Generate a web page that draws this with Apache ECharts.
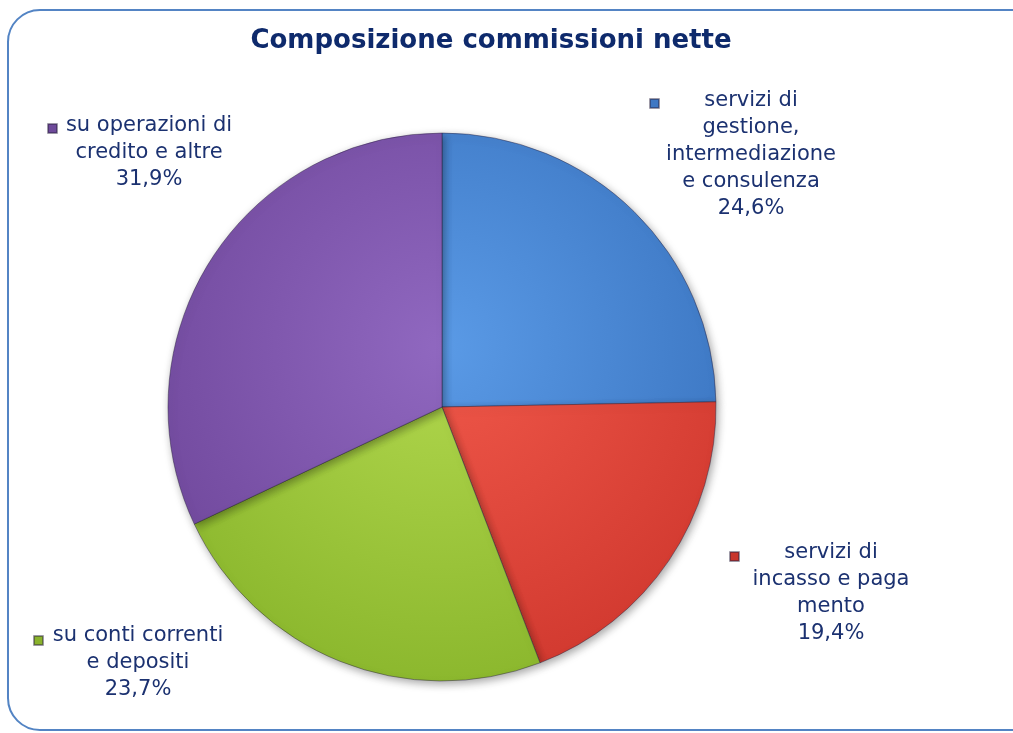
<!DOCTYPE html>
<html>
<head>
<meta charset="utf-8">
<script src="https://cdn.jsdelivr.net/npm/echarts@6/dist/echarts.min.js"></script>
<style>
  html, body { margin: 0; padding: 0; background: #fff; }
  #chart { width: 1013px; height: 733px; }
</style>
</head>
<body>
<div id="chart"></div>
<script>
const categories = [
  'servizi di\ngestione,\nintermediazione\ne consulenza',
  'servizi di\nincasso e paga\nmento',
  'su conti correnti\ne depositi',
  'su operazioni di\ncredito e altre'
]
const values = [24.6, 19.4, 23.7, 31.9]
const percentLabels = ['24,6%', '19,4%', '23,7%', '31,9%']

// colori: chiaro al centro, scuro al bordo
const sliceColors = [
  ['#5a9ae6', '#3a74c0'],
  ['#f0584a', '#d23a30'],
  ['#b2d84e', '#8cb82e'],
  ['#9068c0', '#70489c']
]
const markerColors = ['#3f78c4', '#c8352c', '#8ab32c', '#6e4a9a']

// posizione delle etichette (centro del blocco di testo, in alto)
const labelPos = [
  { x: 751, y: 87 },
  { x: 831, y: 539 },
  { x: 138, y: 622 },
  { x: 149, y: 112 }
]
const markerPos = [
  { left: 644, top: 93 },
  { left: 724, top: 546 },
  { left: 28, top: 630 },
  { left: 42, top: 118 }
]

const cx = 442, cy = 407, r = 274

const chart = echarts.init(document.getElementById('chart'))

const option = {
  backgroundColor: '#ffffff',
  animation: false,
  title: {
    text: 'Composizione commissioni nette',
    left: 486,
    top: 23,
    textAlign: 'center',
    textStyle: {
      fontFamily: 'DejaVu Sans',
      fontWeight: 'bold',
      fontSize: 26,
      color: '#0e2a6c'
    }
  },
  legend: categories.map((c, i) => ({
    left: markerPos[i].left,
    top: markerPos[i].top,
    icon: 'rect',
    itemWidth: 9,
    itemHeight: 9,
    selectedMode: false,
    formatter: () => '',
    data: [{ name: c, itemStyle: { color: markerColors[i] } }]
  })),
  graphic: [{
    type: 'rect',
    shape: { x: 8, y: 10, width: 1060, height: 720, r: 32 },
    style: { fill: 'none', stroke: '#5384c4', lineWidth: 2 },
    silent: true
  }],
  series: [{
    type: 'pie',
    center: [cx, cy],
    radius: r,
    startAngle: 90,
    clockwise: true,
    itemStyle: {
      borderColor: 'rgba(40,30,60,0.45)',
      borderWidth: 1,
      shadowBlur: 8,
      shadowOffsetX: 2,
      shadowOffsetY: 3,
      shadowColor: 'rgba(0,0,0,0.35)'
    },
    label: {
      show: true,
      formatter: p => p.name + '\n' + percentLabels[p.dataIndex],
      fontFamily: 'DejaVu Sans',
      fontSize: 21,
      lineHeight: 27,
      color: '#1b3170',
      align: 'center',
      overflow: 'none',
      width: 300
    },
    labelLine: { show: false },
    labelLayout: p => ({
      x: labelPos[p.dataIndex].x,
      y: labelPos[p.dataIndex].y,
      align: 'center',
      verticalAlign: 'top'
    }),
    emphasis: { disabled: true },
    data: categories.map((c, i) => ({
      name: c,
      value: values[i],
      itemStyle: {
        color: {
          type: 'radial',
          x: cx, y: cy - 60, r: r + 60,
          global: true,
          colorStops: [
            { offset: 0, color: sliceColors[i][0] },
            { offset: 1, color: sliceColors[i][1] }
          ]
        }
      }
    }))
  }]
}

chart.setOption(option)
</script>
</body>
</html>
